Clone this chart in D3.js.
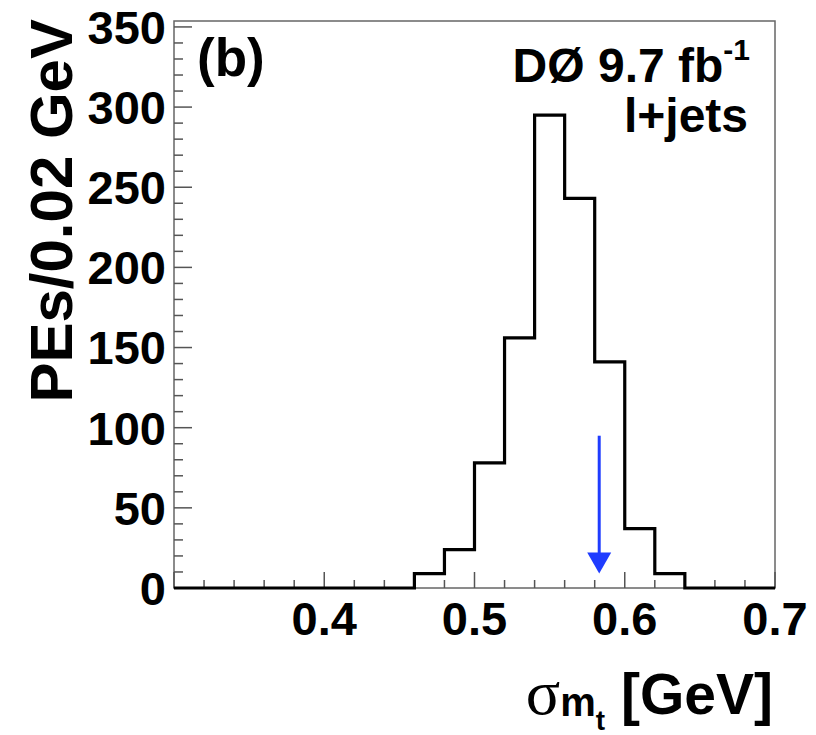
<!DOCTYPE html>
<html>
<head>
<meta charset="utf-8">
<script src="https://cdn.jsdelivr.net/npm/d3@7"></script>
<style>
  html, body { margin: 0; padding: 0; background: #fff; }
  svg { display: block; }
  text { font-family: "Liberation Sans", Arial, Helvetica, sans-serif; font-weight: bold; fill: #000; }
</style>
</head>
<body>
<svg id="chart" width="816" height="735"></svg>
<script>
// ---- data ----
const binLow = [0.30,0.32,0.34,0.36,0.38,0.40,0.42,0.44,0.46,0.48,0.50,0.52,0.54,0.56,0.58,0.60,0.62,0.64,0.66,0.68];
const counts = [0,0,0,0,0,0,0,0,9,24,78,156,295,243,141,37,9,0,0,0];
const binWidth = 0.02;
const xTicks = [0.4, 0.5, 0.6, 0.7];
const yTicks = [0, 50, 100, 150, 200, 250, 300, 350];
const arrowX = 0.583, arrowTop = 95, arrowTip = 9;

// ---- layout ----
const svg = d3.select("#chart");
const L = 174, R = 775, T = 21, B = 588;
const x = d3.scaleLinear().domain([0.3, 0.7]).range([L, R]);
const y = d3.scaleLinear().domain([0, 353.7]).range([B, T]);
const tickColor = "#555";

// frame
svg.append("rect").attr("x", L).attr("y", T).attr("width", R - L).attr("height", B - T)
  .attr("fill", "none").attr("stroke", "#666").attr("stroke-width", 1.5);

// y axis ticks
const yMinor = d3.range(0, 351, 10);
svg.append("g").selectAll("line").data(yMinor).join("line")
  .attr("x1", L).attr("x2", d => L + (d % 50 === 0 ? 18 : 9))
  .attr("y1", d => y(d)).attr("y2", d => y(d))
  .attr("stroke", tickColor).attr("stroke-width", 1.5);
svg.append("g").selectAll("text").data(yTicks).join("text")
  .attr("x", 166).attr("y", d => y(d)).attr("dy", "0.36em")
  .attr("text-anchor", "end").attr("font-size", 47).text(d => d);

// x axis ticks
const xMinor = d3.range(0, 21).map(i => 0.3 + i * 0.02);
svg.append("g").selectAll("line").data(xMinor).join("line")
  .attr("x1", d => x(d)).attr("x2", d => x(d))
  .attr("y1", B).attr("y2", (d, i) => B - (i % 5 === 0 ? 16 : 8))
  .attr("stroke", tickColor).attr("stroke-width", 1.5);
svg.append("g").selectAll("text").data(xTicks).join("text")
  .attr("x", d => x(d)).attr("y", 635)
  .attr("text-anchor", "middle").attr("font-size", 47).text(d => d.toFixed(1));

// histogram step line
const pts = [[0.3, 0]];
binLow.forEach((lo, i) => { pts.push([lo, counts[i]]); pts.push([lo + binWidth, counts[i]]); });
pts.push([0.7, 0]);
const line = d3.line().x(d => x(d[0])).y(d => y(d[1]));
svg.append("path").attr("d", line(pts)).attr("fill", "none")
  .attr("stroke", "#000").attr("stroke-width", 3.2).attr("stroke-linejoin", "miter");

// arrow
const blue = "#1f3cff";
const ax = x(arrowX);
svg.append("line").attr("x1", ax).attr("x2", ax).attr("y1", y(arrowTop)).attr("y2", y(arrowTip) - 18)
  .attr("stroke", blue).attr("stroke-width", 3);
svg.append("path")
  .attr("d", `M${ax - 12},${y(arrowTip) - 21} L${ax + 12},${y(arrowTip) - 21} L${ax},${y(arrowTip)} Z`)
  .attr("fill", blue);

// labels
svg.append("text").attr("x", 197).attr("y", 76).attr("font-size", 53).text("(b)");
const t1 = svg.append("text").attr("x", 750).attr("y", 82).attr("text-anchor", "end").attr("font-size", 48);
t1.append("tspan").text("DØ 9.7 fb");
t1.append("tspan").attr("font-size", 30).attr("dy", -22).text("-1");
svg.append("text").attr("x", 748).attr("y", 132).attr("text-anchor", "end").attr("font-size", 48).text("l+jets");

// y title
svg.append("text").attr("transform", "translate(72,19) rotate(-90)")
  .attr("text-anchor", "end").attr("font-size", 60).text("PEs/0.02 GeV");

// x title
const xt = svg.append("text").attr("x", 773).attr("y", 714).attr("text-anchor", "end").attr("font-size", 57);
xt.append("tspan").attr("font-family", "'Liberation Serif', 'DejaVu Serif', serif").attr("font-weight", "normal").attr("font-size", 64).text("σ");
xt.append("tspan").attr("font-size", 40).attr("dy", 2).text("m");
xt.append("tspan").attr("font-size", 28).attr("dy", 14).text("t");
xt.append("tspan").attr("dy", -16).text(" [GeV]");
</script>
</body>
</html>
